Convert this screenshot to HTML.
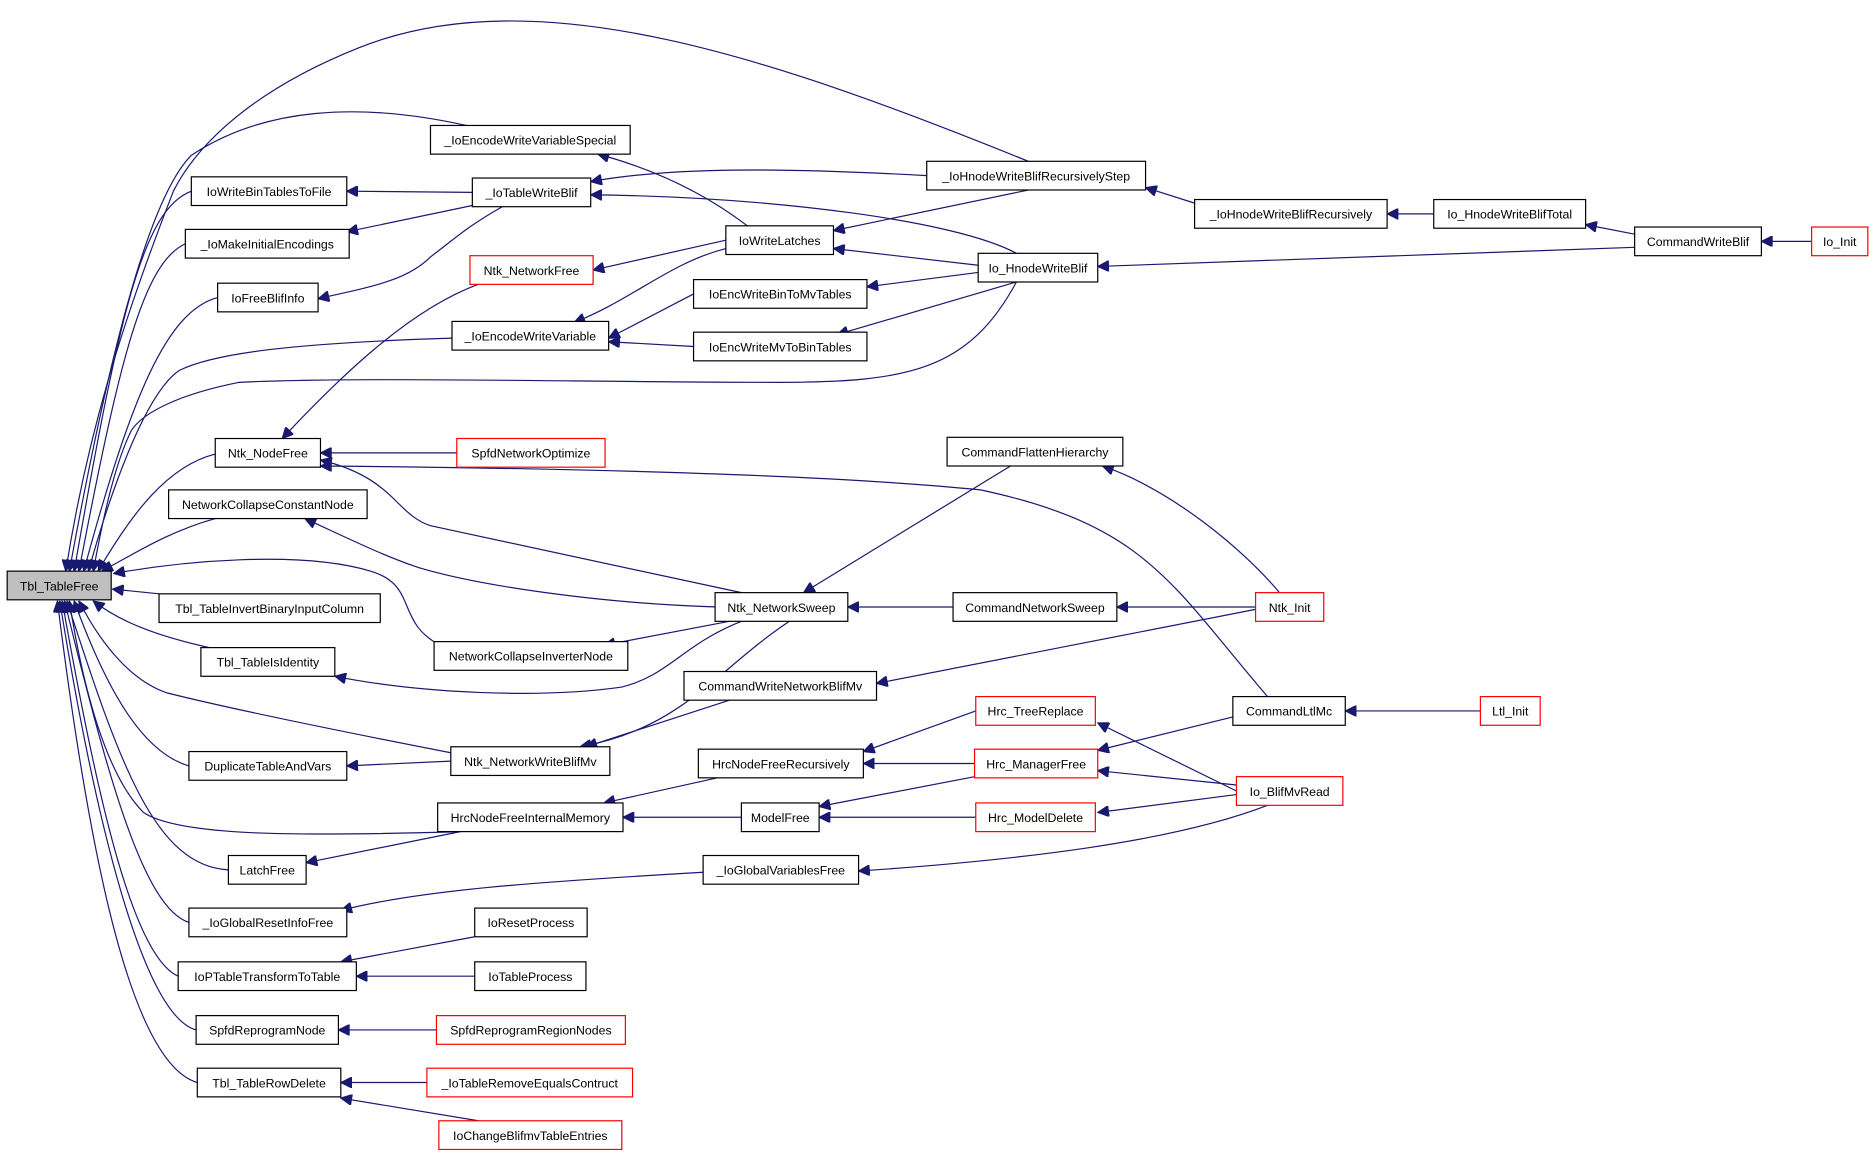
<!DOCTYPE html>
<html><head><meta charset="utf-8"><style>
html,body{margin:0;padding:0;background:#fff;}
svg{display:block;}
text{font-family:"Liberation Sans",sans-serif;font-size:10.3px;fill:#000;text-anchor:middle;}
.e{fill:none;stroke:#191970;stroke-width:1;}
.n{fill:#fff;stroke:#000;stroke-width:1;}
.r{fill:#fff;stroke:#ff0000;stroke-width:1;}
</style></head><body>
<svg width="1875" height="1159" viewBox="0 0 1568 970" preserveAspectRatio="none" xmlns="http://www.w3.org/2000/svg">
<defs><marker id="a" viewBox="0 0 10 10" refX="10" refY="5" markerWidth="10" markerHeight="9" markerUnits="userSpaceOnUse" orient="auto"><path d="M0,0 L10,5 L0,10 z" fill="#191970" stroke="#191970"/></marker></defs>
<g marker-end="url(#a)">
<path class="e" d="M860,135 C650,50 450,-20 300,40 C200,80 160,130 145,160 C110,250 75,350 55,478"/>
<path class="e" d="M390,105 C300,85 220,90 160,130 C120,170 85,330 58,478"/>
<path class="e" d="M160,160 C120,175 100,260 62,478"/>
<path class="e" d="M155,204 C120,220 100,300 66,478"/>
<path class="e" d="M182,249 C140,260 110,330 70,478"/>
<path class="e" d="M378,283 C250,287 180,295 150,310 C120,330 90,420 74,478"/>
<path class="e" d="M850,236 C810,310 760,320 650,320 C500,320 300,315 200,320 C150,330 120,345 110,360 C95,390 85,440 78,478"/>
<path class="e" d="M180,380 C140,390 110,430 82,478"/>
<path class="e" d="M180,434 C140,445 110,465 85,478"/>
<path class="e" d="M368,540 C330,520 350,490 310,478 C250,460 150,470 95,480"/>
<path class="e" d="M133,497 L94,493"/>
<path class="e" d="M175,542 C130,532 100,520 78,503"/>
<path class="e" d="M377,630 C300,615 200,595 140,580 C110,570 85,540 66,503"/>
<path class="e" d="M158,641 C120,630 90,580 62,503"/>
<path class="e" d="M385,696 C250,700 150,700 120,680 C90,650 70,580 58,503"/>
<path class="e" d="M191,728 C130,725 100,640 56,503"/>
<path class="e" d="M158,772 C120,760 90,650 54,503"/>
<path class="e" d="M149,817 C110,800 80,660 52,503"/>
<path class="e" d="M164,862 C120,850 80,690 50,503"/>
<path class="e" d="M165,906 C110,890 75,720 48,503"/>
<path class="e" d="M395,161 L290,160"/>
<path class="e" d="M395,172 L290,194"/>
<path class="e" d="M420,173 C390,190 380,200 360,215 C340,235 310,240 266,250"/>
<path class="e" d="M775,147 C650,140 560,140 494,152"/>
<path class="e" d="M850,212 C800,185 650,165 494,163"/>
<path class="e" d="M625,189 C600,170 560,145 500,129"/>
<path class="e" d="M607,201 L496,226"/>
<path class="e" d="M607,208 C560,220 530,250 480,270"/>
<path class="e" d="M580,246 L509,283"/>
<path class="e" d="M580,290 L509,286"/>
<path class="e" d="M860,159 L697,193"/>
<path class="e" d="M818,222 L697,208"/>
<path class="e" d="M818,228 L725,240"/>
<path class="e" d="M850,236 L700,280"/>
<path class="e" d="M999,170 L958,157"/>
<path class="e" d="M1199,179 L1160,179"/>
<path class="e" d="M1367,196 L1326,188"/>
<path class="e" d="M1367,207 L918,223"/>
<path class="e" d="M1515,202 L1473,202"/>
<path class="e" d="M400,238 C340,260 280,320 236,367"/>
<path class="e" d="M382,379 L268,379"/>
<path class="e" d="M620,496 C500,470 380,445 360,440 C330,430 330,400 268,385"/>
<path class="e" d="M1060,583 C980,490 960,440 820,410 C700,398 500,392 268,390"/>
<path class="e" d="M600,508 C500,505 400,490 350,475 C320,465 290,450 255,434"/>
<path class="e" d="M610,520 L505,540"/>
<path class="e" d="M845,390 L672,496"/>
<path class="e" d="M797,508 L709,508"/>
<path class="e" d="M1050,508 L934,508"/>
<path class="e" d="M1070,496 C1040,460 980,410 922,390"/>
<path class="e" d="M1050,510 L733,572"/>
<path class="e" d="M620,520 C570,540 560,565 520,575 C450,585 350,580 280,566"/>
<path class="e" d="M660,520 C600,560 570,610 485,625"/>
<path class="e" d="M610,586 L490,625"/>
<path class="e" d="M377,637 L290,641"/>
<path class="e" d="M600,651 L505,672"/>
<path class="e" d="M620,684 L521,684"/>
<path class="e" d="M385,696 L256,722"/>
<path class="e" d="M816,595 L722,629"/>
<path class="e" d="M815,639 L722,639"/>
<path class="e" d="M815,650 L685,675"/>
<path class="e" d="M816,684 L685,684"/>
<path class="e" d="M1031,600 L918,628"/>
<path class="e" d="M1034,662 L918,605"/>
<path class="e" d="M1034,657 L918,645"/>
<path class="e" d="M1034,665 L918,680"/>
<path class="e" d="M1060,674 C980,705 850,720 718,729"/>
<path class="e" d="M1238,595 L1125,595"/>
<path class="e" d="M588,730 C450,738 350,745 285,762"/>
<path class="e" d="M397,784 L285,805"/>
<path class="e" d="M397,817 L298,817"/>
<path class="e" d="M365,862 L283,862"/>
<path class="e" d="M357,906 L285,906"/>
<path class="e" d="M400,938 L285,919"/>
</g>
<rect x="6" y="478" width="87" height="24" fill="#bfbfbf" stroke="#000"/><text x="49.5" y="494">Tbl_TableFree</text>
<rect class="n" x="360" y="105" width="167" height="24"/><text x="443.5" y="121">_IoEncodeWriteVariableSpecial</text>
<rect class="n" x="160" y="148" width="130" height="24"/><text x="225" y="164">IoWriteBinTablesToFile</text>
<rect class="n" x="155" y="192" width="137" height="24"/><text x="223.5" y="208">_IoMakeInitialEncodings</text>
<rect class="n" x="182" y="237" width="84" height="24"/><text x="224" y="253">IoFreeBlifInfo</text>
<rect class="n" x="378" y="269" width="131" height="24"/><text x="443.5" y="285">_IoEncodeWriteVariable</text>
<rect class="n" x="180" y="367" width="88" height="24"/><text x="224" y="383">Ntk_NodeFree</text>
<rect class="n" x="141" y="410" width="166" height="24"/><text x="224" y="426">NetworkCollapseConstantNode</text>
<rect class="n" x="133" y="497" width="185" height="24"/><text x="225.5" y="513">Tbl_TableInvertBinaryInputColumn</text>
<rect class="n" x="168" y="542" width="112" height="24"/><text x="224" y="558">Tbl_TableIsIdentity</text>
<rect class="n" x="158" y="629" width="132" height="24"/><text x="224" y="645">DuplicateTableAndVars</text>
<rect class="n" x="191" y="716" width="65" height="24"/><text x="223.5" y="732">LatchFree</text>
<rect class="n" x="158" y="760" width="132" height="24"/><text x="224" y="776">_IoGlobalResetInfoFree</text>
<rect class="n" x="149" y="805" width="149" height="24"/><text x="223.5" y="821">IoPTableTransformToTable</text>
<rect class="n" x="164" y="850" width="119" height="24"/><text x="223.5" y="866">SpfdReprogramNode</text>
<rect class="n" x="165" y="894" width="120" height="24"/><text x="225" y="910">Tbl_TableRowDelete</text>
<rect class="n" x="395" y="149" width="99" height="24"/><text x="444.5" y="165">_IoTableWriteBlif</text>
<rect class="r" x="393" y="214" width="103" height="24"/><text x="444.5" y="230">Ntk_NetworkFree</text>
<rect class="r" x="382" y="367" width="124" height="24"/><text x="444" y="383">SpfdNetworkOptimize</text>
<rect class="n" x="363" y="537" width="162" height="24"/><text x="444" y="553">NetworkCollapseInverterNode</text>
<rect class="n" x="377" y="625" width="133" height="24"/><text x="443.5" y="641">Ntk_NetworkWriteBlifMv</text>
<rect class="n" x="366" y="672" width="155" height="24"/><text x="443.5" y="688">HrcNodeFreeInternalMemory</text>
<rect class="n" x="397" y="760" width="94" height="24"/><text x="444" y="776">IoResetProcess</text>
<rect class="n" x="397" y="805" width="93" height="24"/><text x="443.5" y="821">IoTableProcess</text>
<rect class="r" x="365" y="850" width="158" height="24"/><text x="444" y="866">SpfdReprogramRegionNodes</text>
<rect class="r" x="357" y="894" width="172" height="24"/><text x="443" y="910">_IoTableRemoveEqualsContruct</text>
<rect class="r" x="367" y="938" width="153" height="24"/><text x="443.5" y="954">IoChangeBlifmvTableEntries</text>
<rect class="n" x="607" y="189" width="90" height="24"/><text x="652" y="205">IoWriteLatches</text>
<rect class="n" x="580" y="234" width="145" height="24"/><text x="652.5" y="250">IoEncWriteBinToMvTables</text>
<rect class="n" x="580" y="278" width="145" height="24"/><text x="652.5" y="294">IoEncWriteMvToBinTables</text>
<rect class="n" x="598" y="496" width="111" height="24"/><text x="653.5" y="512">Ntk_NetworkSweep</text>
<rect class="n" x="572" y="562" width="161" height="24"/><text x="652.5" y="578">CommandWriteNetworkBlifMv</text>
<rect class="n" x="584" y="627" width="138" height="24"/><text x="653" y="643">HrcNodeFreeRecursively</text>
<rect class="n" x="620" y="672" width="65" height="24"/><text x="652.5" y="688">ModelFree</text>
<rect class="n" x="588" y="716" width="130" height="24"/><text x="653" y="732">_IoGlobalVariablesFree</text>
<rect class="n" x="775" y="135" width="183" height="24"/><text x="866.5" y="151">_IoHnodeWriteBlifRecursivelyStep</text>
<rect class="n" x="818" y="212" width="100" height="24"/><text x="868" y="228">Io_HnodeWriteBlif</text>
<rect class="n" x="792" y="366" width="147" height="24"/><text x="865.5" y="382">CommandFlattenHierarchy</text>
<rect class="n" x="797" y="496" width="137" height="24"/><text x="865.5" y="512">CommandNetworkSweep</text>
<rect class="r" x="816" y="583" width="100" height="24"/><text x="866" y="599">Hrc_TreeReplace</text>
<rect class="r" x="815" y="627" width="103" height="24"/><text x="866.5" y="643">Hrc_ManagerFree</text>
<rect class="r" x="816" y="672" width="100" height="24"/><text x="866" y="688">Hrc_ModelDelete</text>
<rect class="n" x="999" y="167" width="161" height="24"/><text x="1079.5" y="183">_IoHnodeWriteBlifRecursively</text>
<rect class="r" x="1050" y="496" width="57" height="24"/><text x="1078.5" y="512">Ntk_Init</text>
<rect class="n" x="1031" y="583" width="94" height="24"/><text x="1078" y="599">CommandLtlMc</text>
<rect class="r" x="1034" y="650" width="89" height="24"/><text x="1078.5" y="666">Io_BlifMvRead</text>
<rect class="n" x="1199" y="167" width="127" height="24"/><text x="1262.5" y="183">Io_HnodeWriteBlifTotal</text>
<rect class="n" x="1367" y="190" width="106" height="24"/><text x="1420" y="206">CommandWriteBlif</text>
<rect class="r" x="1515" y="190" width="47" height="24"/><text x="1538.5" y="206">Io_Init</text>
<rect class="r" x="1238" y="583" width="50" height="24"/><text x="1263" y="599">Ltl_Init</text>
</svg>
</body></html>
